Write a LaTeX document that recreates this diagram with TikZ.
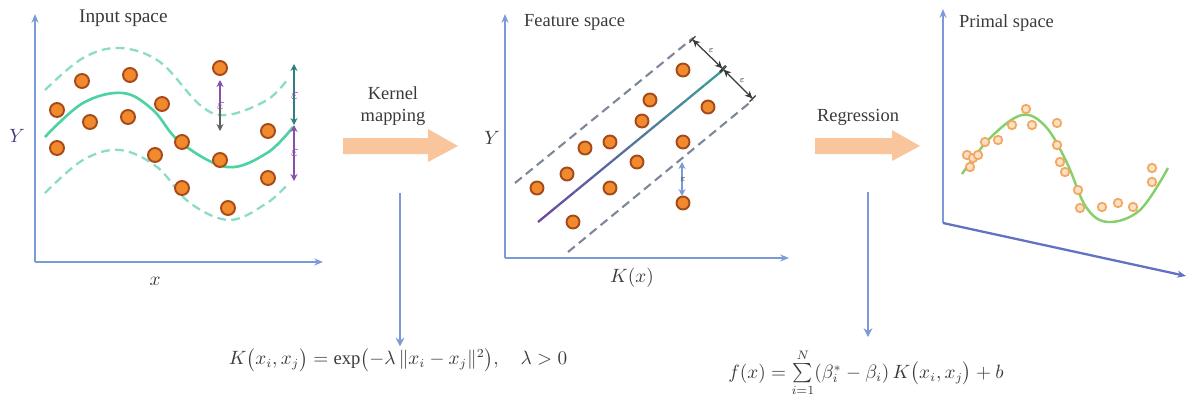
\documentclass[tikz,border=0pt]{standalone}
\usepackage{fontspec}
\setmainfont{Liberation Serif}
\usepackage{amsmath}
\usetikzlibrary{arrows.meta,calc}
\definecolor{axisblue}{HTML}{7D9AD8}
\definecolor{axisdark}{HTML}{6272C2}
\definecolor{dotfill}{HTML}{F08A2C}
\definecolor{dotedge}{HTML}{A5481A}
\definecolor{curvegreen}{HTML}{4CD3A2}
\definecolor{dashgreen}{HTML}{8ADCC6}
\definecolor{peach}{HTML}{F9C59C}
\definecolor{textgray}{HTML}{3A3A3A}
\definecolor{epsviolet}{HTML}{8A4FA8}
\definecolor{epsteal}{HTML}{2F7F80}
\definecolor{featdash}{HTML}{7C879A}
\definecolor{lineviolet}{HTML}{6A4BA0}
\definecolor{lineteal}{HTML}{3C9C9A}
\definecolor{primcurve}{HTML}{86CF6A}
\definecolor{primdot}{HTML}{F2A860}
\definecolor{ylabel}{HTML}{4A3A7C}
\tikzset{
  axis/.style={draw=axisblue, line width=1.3pt, -{Stealth[length=5pt,width=4pt]}},
  dot/.style={fill=dotfill, draw=dotedge, line width=1.1pt},
  hdot/.style={fill=primdot!35, draw=primdot, line width=1pt},
  title/.style={font=\fontsize{10.5}{12}\selectfont, text=textgray, inner sep=1pt},
  lbl/.style={font=\fontsize{11}{13}\selectfont, text=textgray, inner sep=1pt},
  epsarrow/.style={line width=0.7pt, {Stealth[length=4pt,width=4pt]}-{Stealth[length=4pt,width=4pt]}},
  downarrow/.style={line width=0.7pt, -{Stealth[length=4pt,width=4pt]}},
  epslbl/.style={font=\fontsize{9}{10}\selectfont, inner sep=0pt},
  smalleps/.style={font=\fontsize{5}{6}\selectfont, inner sep=0pt, text=textgray},
  blockarrow/.style={fill=peach, draw=none},
  downline/.style={draw=axisblue, line width=0.9pt, -{Stealth[length=5pt,width=5pt]}},
  formula/.style={font=\fontsize{10.6}{12}\selectfont, text=textgray, inner sep=1pt}
}
\begin{document}
\begin{tikzpicture}[x=0.02cm, y=-0.02cm]
\useasboundingbox (0,0) rectangle (1188,403);

% ===== Panel 1: Input space =====
\coordinate (o1) at (35,262);
\draw[axis] (o1) -- (35,14);
\draw[axis] (o1) -- (323,262);
\node[title, anchor=west, font=\fontsize{11}{12}\selectfont] (t1) at (77,18) {Input space};
\node[lbl, text=ylabel] (y1) at (17,136) {$Y$};
\node[lbl] (x1) at (155,281) {$x$};

\draw[dashgreen, line width=1.3pt, dash pattern=on 5pt off 3pt]
  plot[smooth, tension=0.6] coordinates {(45,90) (83,58) (120,48) (160,62) (200,105) (227,115) (267,100) (287,80)};
\draw[dashgreen, line width=1.3pt, dash pattern=on 5pt off 3pt]
  plot[smooth, tension=0.6] coordinates {(45,193) (83,160) (120,150) (157,167) (190,203) (230,220) (267,203) (287,185)};
\draw[curvegreen, line width=1.5pt]
  plot[smooth, tension=0.6] coordinates {(45,137) (83,103) (123,93) (153,110) (180,142) (227,167) (267,153) (293,127)};

\foreach \p in {(57,110),(82,81),(130,75),(162,104),(57,148),(90,122),(128,117),(155,155),(182,142),(182,188),(220,68),(220,160),(228,208),(268,131),(268,178)}
  \fill[dot] \p circle[radius=0.14cm];

\coordinate (e1a) at (220,80);
\coordinate (e1m) at (220,106);
\coordinate (e1b) at (220,131);
\draw[line width=0.7pt, draw=epsviolet, {Stealth[length=4pt,width=4pt]}-] (e1a) -- (e1m);
\draw[downarrow, draw=textgray!80] (e1m) -- (e1b);
\node[epslbl, text=epsviolet] (eps1) at (221,106) {$\varepsilon$};

\coordinate (e2a) at (294,64);
\coordinate (e2m) at (294,125);
\coordinate (e2b) at (294,181);
\draw[epsarrow, draw=epsteal] (e2a) -- (e2m);
\draw[epsarrow, draw=epsviolet] (e2m) -- (e2b);
\node[epslbl, text=epsviolet] (eps2) at (295,96) {$\varepsilon$};
\node[epslbl, text=epsviolet] (eps3) at (295,153) {$\varepsilon$};

% ===== Kernel mapping arrow =====
\fill[blockarrow] (343,138) -- (428,138) -- (428,129) -- (458,146) -- (428,162) -- (428,154) -- (343,154) -- cycle;
\node[lbl, align=center, font=\fontsize{10.5}{12.5}\selectfont] (km) at (393,106) {Kernel\\mapping};
\coordinate (d1) at (400,193);
\node[formula] (f1) at (398,360) {$K\bigl(x_i,x_j\bigr) = \exp\bigl(-\lambda\,\lVert x_i - x_j\rVert^2\bigr),\quad \lambda>0$};
\draw[downline] (d1) -- (d1 |- f1.north);

% ===== Panel 2: Feature space =====
\coordinate (o2) at (505,258);
\draw[axis] (o2) -- (505,14);
\draw[axis] (o2) -- (789,258);
\node[title, anchor=west] (t2) at (522,22) {Feature space};
\node[lbl] (y2) at (492,138) {$Y$};
\node[lbl] (x2) at (632,278) {$K(x)$};

\draw[featdash, line width=1.2pt, dash pattern=on 5pt off 3pt] (515,183) -- (693,38);
\draw[featdash, line width=1.2pt, dash pattern=on 5pt off 3pt] (568,252) -- (753,100);
\foreach \k in {0,...,9} {
  \pgfmathsetmacro{\mix}{100-\k*11}
  \pgfmathsetmacro{\ta}{\k/10}
  \pgfmathsetmacro{\tb}{\k/10+0.1}
  \draw[lineviolet!\mix!lineteal, line width=1.3pt]
    ($(538,222)!\ta!(723,70)$) -- ($(538,222)!\tb!(723,70)$);
}

\foreach \p in {(683,70),(650,100),(708,107),(642,121),(585,148),(610,142),(683,142),(637,162),(567,174),(537,188),(610,188),(573,222),(683,203)}
  \fill[dot] \p circle[radius=0.13cm];

\coordinate (g1) at (692,39);
\coordinate (g2) at (723,69);
\coordinate (g3) at (753,99);
\draw[line width=0.7pt, draw=textgray, {Bar[width=5pt]Stealth[length=4pt,width=4pt]}-{Stealth[length=4pt,width=4pt]Bar[width=5pt]}] (g1) -- (g2);
\draw[line width=0.7pt, draw=textgray, {Bar[width=5pt]Stealth[length=4pt,width=4pt]}-{Stealth[length=4pt,width=4pt]Bar[width=5pt]}] (g2) -- (g3);
\node[smalleps] (eps4) at (711,51) {$\varepsilon$};
\node[smalleps] (eps5) at (742,81) {$\varepsilon$};

\coordinate (h1) at (682,162);
\coordinate (h2) at (682,196);
\draw[epsarrow, draw=axisblue] (h1) -- (h2);
\node[smalleps] (eps6) at (683,180) {$\varepsilon$};

% ===== Regression arrow =====
\fill[blockarrow] (815,138) -- (892,138) -- (892,130) -- (920,146) -- (892,161) -- (892,154) -- (815,154) -- cycle;
\node[lbl, font=\fontsize{10.5}{12.5}\selectfont] (rg) at (858,117) {Regression};
\coordinate (d2) at (868,192);
\node[formula] (f2) at (866,373) {$f(x) = \sum\limits_{i=1}^{N} (\beta_i^* - \beta_i)\, K\bigl(x_i,x_j\bigr) + b$};
\coordinate (d2e) at (868,337);
\draw[downline] (d2) -- (d2e);

% ===== Panel 3: Primal space =====
\coordinate (o3) at (943,223);
\draw[axis] (o3) -- (943,9);
\draw[axis, draw=axisdark] (o3) -- (1186,276);
\node[title, anchor=west] (t3) at (957,23) {Primal space};

\draw[primcurve, line width=1.4pt]
  plot[smooth, tension=0.6] coordinates {(962,174) (990,138) (1022,115) (1046,127) (1067,163) (1086,207) (1108,222) (1140,210) (1168,168)};
\foreach \p in {(967,155),(973,158),(978,155),(970,167),(985,142),(998,140),(1012,125),(1026,109),(1032,125),(1057,123),(1057,145),(1060,162),(1065,172),(1078,190),(1080,208),(1102,207),(1118,203),(1133,207),(1152,168),(1152,182)}
  \draw[hdot] \p circle[radius=0.085cm];

\end{tikzpicture}
\end{document}
